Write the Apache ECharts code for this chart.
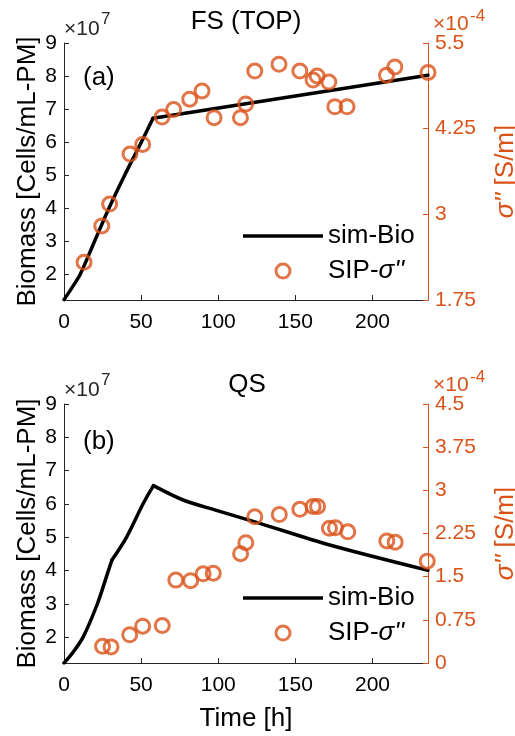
<!DOCTYPE html>
<html>
<head>
<meta charset="utf-8">
<script src="https://cdn.jsdelivr.net/npm/echarts@6/dist/echarts.min.js"></script>
<style>
  html, body { margin: 0; padding: 0; background: #fff; }
  #main { width: 515px; height: 736px; }
</style>
</head>
<body>
<div id="main"></div>
<script>
// (a) FS (TOP) - simulated biomass, x1e7 cells/mL-PM
var fsBioTime = [0, 5, 10.6, 19.9, 29.2, 39.4, 50.2, 57.7, 236];
var fsBioValue = [1.22, 1.57, 2, 3, 4, 5, 6, 6.72, 8.02];
// (a) SIP sigma'' , x1e-4 S/m
var fsSipTime = [13, 24.5, 29.6, 42.8, 51, 63.6, 71.1, 81.5, 89.5, 97.3, 114.4, 117.8, 123.7, 139.4, 152.9, 161.5, 164.1, 171.7, 175.6, 183.5, 209.1, 214.5, 236];
var fsSipValue = [2.30, 2.83, 3.15, 3.88, 4.02, 4.42, 4.53, 4.68, 4.80, 4.41, 4.41, 4.61, 5.09, 5.19, 5.09, 4.96, 5.02, 4.93, 4.57, 4.57, 5.03, 5.15, 5.07];

// (b) QS
var qsBioTime = [0, 5, 12.3, 21.6, 28.8, 31.1, 40.5, 51.2, 58, 77.2, 98.8, 127, 172.3, 236];
var qsBioValue = [1.23, 1.5, 2, 3, 4, 4.32, 5, 6, 6.55, 6.12, 5.81, 5.42, 4.77, 4.01];
var qsSipTime = [25, 30.5, 42.6, 51, 63.7, 72.5, 82.1, 90.2, 96.8, 114.5, 117.9, 123.7, 139.6, 152.9, 161.5, 164.4, 172.1, 176, 184, 209.3, 214.7, 235.5];
var qsSipValue = [0.29, 0.28, 0.49, 0.64, 0.65, 1.44, 1.43, 1.55, 1.56, 1.90, 2.09, 2.54, 2.58, 2.67, 2.72, 2.72, 2.34, 2.35, 2.28, 2.12, 2.10, 1.77];

// where the simulated curves change regime (index into the arrays above)
var fsKinks = [7];
var qsKinks = [5, 8];

// tick labels
var timeTicks = [0, 50, 100, 150, 200];
var bioTicks = [2, 3, 4, 5, 6, 7, 8, 9];
var fsSipTicks = [1.75, 3, 4.25, 5.5];
var qsSipTicks = [0, 0.75, 1.5, 2.25, 3, 3.75, 4.5];

var orange = '#D95319';
var dark = '#262626';
var font = '"Liberation Sans", Arial, sans-serif';

function pairs(xs, ys) {
  return xs.map(function (x, i) { return [x, ys[i]]; });
}

function xAxisFor(idx, name) {
  return {
    gridIndex: idx, type: 'value', min: 0, max: 236,
    axisLine: { show: true, onZero: false, lineStyle: { color: dark, width: 1 } },
    axisTick: { show: true, inside: true, length: 5, customValues: timeTicks, lineStyle: { color: dark } },
    axisLabel: { customValues: timeTicks, color: '#000', fontSize: 21, fontFamily: font, margin: 12 },
    splitLine: { show: false },
    name: name, nameLocation: 'middle', nameGap: 43, nameMoveOverlap: false,
    nameTextStyle: { color: '#000', fontSize: 26, fontFamily: font }
  };
}

function leftAxis(idx, min) {
  return {
    gridIndex: idx, type: 'value', position: 'left', min: min, max: 9,
    axisLine: { show: true, lineStyle: { color: dark, width: 1 } },
    axisTick: { show: true, inside: true, length: 5, customValues: bioTicks, lineStyle: { color: dark } },
    axisLabel: { customValues: bioTicks, color: '#000', fontSize: 21, fontFamily: font, margin: 7 },
    splitLine: { show: false },
    name: 'Biomass [Cells/mL-PM]', nameLocation: 'middle', nameRotate: 90, nameGap: 23, nameMoveOverlap: false,
    nameTextStyle: { color: '#000', fontSize: 26, fontFamily: font }
  };
}

function rightAxis(idx, min, max, ticks) {
  return {
    gridIndex: idx, type: 'value', position: 'right', min: min, max: max,
    axisLine: { show: true, lineStyle: { color: orange, width: 1 } },
    axisTick: { show: true, inside: true, length: 5, customValues: ticks, lineStyle: { color: orange } },
    axisLabel: { customValues: ticks, color: orange, fontSize: 21, fontFamily: font, margin: 7 },
    splitLine: { show: false },
    name: "{s|σ''} [S/m]", nameLocation: 'middle', nameRotate: 90, nameGap: 65, nameMoveOverlap: false,
    nameTextStyle: {
      color: orange, fontSize: 26, fontFamily: font,
      rich: { s: { color: orange, fontSize: 26, fontFamily: font, fontStyle: 'italic' } }
    }
  };
}

function legendAt(top) {
  return {
    orient: 'vertical', left: 243, top: top, padding: 0,
    itemWidth: 80, itemHeight: 14, itemGap: 7,
    data: [
      { name: 'sim-Bio', icon: 'path://M0,0L80,0L80,3.5L0,3.5Z', itemStyle: { borderWidth: 0 } },
      { name: 'SIP' }
    ],
    selectedMode: false,
    itemStyle: { borderWidth: 3 },
    formatter: function (n) { return n === 'SIP' ? "SIP-{s|σ''}" : n; },
    textStyle: {
      color: '#000', fontSize: 26, fontFamily: font, lineHeight: 28,
      rich: { s: { fontSize: 26, fontFamily: font, fontStyle: 'italic', color: '#000' } }
    }
  };
}

function txt(x, y, s, size, color, align) {
  return {
    type: 'text', x: x, y: y,
    style: { text: s, fontSize: size, fontFamily: font, fill: color, align: align || 'left', verticalAlign: 'middle' }
  };
}

// one line series per regime so the kinks stay sharp
function bioSeries(idx, xs, ys, kinks) {
  var pts = pairs(xs, ys);
  var cuts = [0].concat(kinks, [pts.length - 1]);
  var out = [];
  for (var k = 0; k < cuts.length - 1; k++) {
    out.push({
      name: 'sim-Bio', type: 'line', xAxisIndex: idx, yAxisIndex: idx * 2,
      data: pts.slice(cuts[k], cuts[k + 1] + 1), symbol: 'none', smooth: 0.3,
      lineStyle: { color: '#000', width: 3.5, cap: 'round', join: 'round' }, itemStyle: { color: '#000' }
    });
  }
  return out;
}

function sipSeries(idx, xs, ys) {
  return {
    name: 'SIP', type: 'scatter', xAxisIndex: idx, yAxisIndex: idx * 2 + 1,
    data: pairs(xs, ys), symbol: 'circle', symbolSize: 14, clip: false, z: 3,
    itemStyle: { color: 'rgba(0,0,0,0)', borderColor: orange, borderWidth: 3 }
  };
}

var chart = echarts.init(document.getElementById('main'));

var option = {
  animation: false,
  backgroundColor: '#fff',
  grid: [
    { left: 64, top: 43, width: 364, height: 257, outerBoundsMode: 'none' },
    { left: 64, top: 404, width: 364, height: 259, outerBoundsMode: 'none' }
  ],
  xAxis: [xAxisFor(0, ''), xAxisFor(1, 'Time [h]')],
  yAxis: [
    leftAxis(0, 1.21),
    rightAxis(0, 1.75, 5.5, fsSipTicks),
    leftAxis(1, 1.23),
    rightAxis(1, 0, 4.5, qsSipTicks)
  ],
  legend: [legendAt(222), legendAt(584)],
  graphic: [
    txt(246, 22, 'FS (TOP)', 26, '#000', 'center'),
    txt(83, 78, '(a)', 26, '#000'),
    txt(64, 29, '×10', 21, dark),
    txt(101, 19, '7', 17, dark),
    txt(433, 24, '×10', 21, orange),
    txt(470, 16, '-4', 17, orange),
    txt(247, 385, 'QS', 26, '#000', 'center'),
    txt(83, 442, '(b)', 26, '#000'),
    txt(64, 390, '×10', 21, dark),
    txt(101, 380, '7', 17, dark),
    txt(433, 385, '×10', 21, orange),
    txt(470, 377, '-4', 17, orange)
  ],
  series: [].concat(
    bioSeries(0, fsBioTime, fsBioValue, fsKinks),
    [sipSeries(0, fsSipTime, fsSipValue)],
    bioSeries(1, qsBioTime, qsBioValue, qsKinks),
    [sipSeries(1, qsSipTime, qsSipValue)]
  )
};

chart.setOption(option);
</script>
</body>
</html>
